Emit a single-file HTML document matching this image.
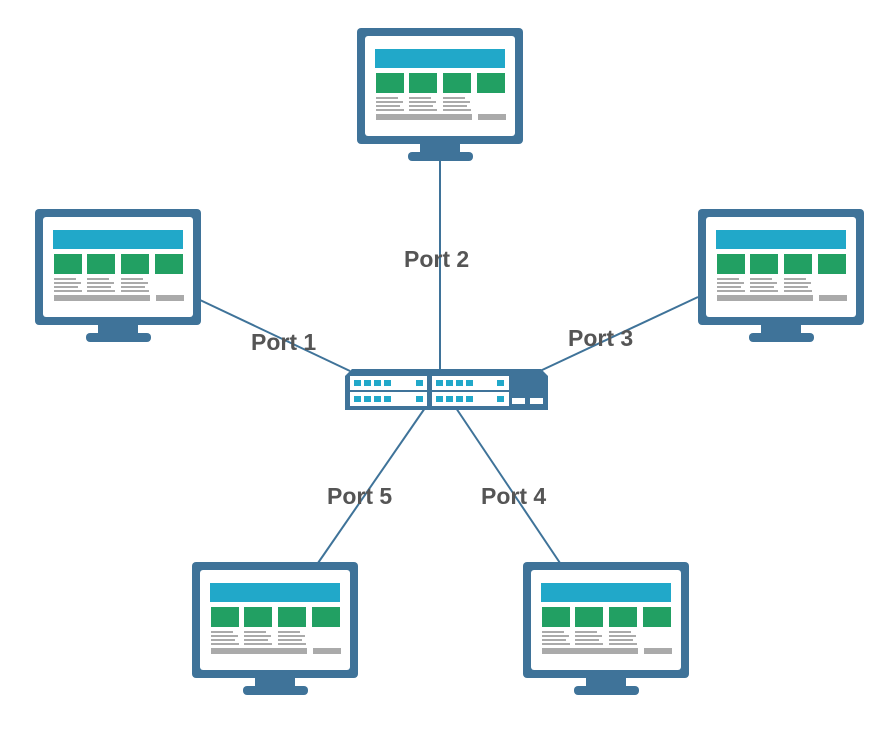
<!DOCTYPE html>
<html><head><style>
html,body{margin:0;padding:0;background:#fff;width:894px;height:735px;overflow:hidden}
text{font-family:"Liberation Sans",sans-serif;font-weight:bold;font-size:23px;fill:#555}
</style></head><body>
<svg width="894" height="735" viewBox="0 0 894 735" xmlns="http://www.w3.org/2000/svg">
<defs>
<g id="mon">
  <rect x="0" y="0" width="166" height="116" rx="4" fill="#3f7399"/>
  <rect x="8" y="8" width="150" height="100" rx="3" fill="#fff"/>
  <rect x="63" y="114" width="40" height="12" fill="#3f7399"/>
  <rect x="51" y="124" width="65" height="9" rx="4" fill="#3f7399"/>
  <rect x="18" y="21" width="130" height="19" fill="#21a8c9"/>
  <rect x="19" y="45" width="28" height="20" fill="#22a063"/>
  <rect x="52" y="45" width="28" height="20" fill="#22a063"/>
  <rect x="86" y="45" width="28" height="20" fill="#22a063"/>
  <rect x="120" y="45" width="28" height="20" fill="#22a063"/>
  <g fill="#aaa">
    <rect x="19" y="69" width="22" height="2"/><rect x="19" y="73" width="27" height="2"/><rect x="19" y="77" width="24" height="2"/><rect x="19" y="81" width="28" height="2"/>
    <rect x="52" y="69" width="22" height="2"/><rect x="52" y="73" width="27" height="2"/><rect x="52" y="77" width="24" height="2"/><rect x="52" y="81" width="28" height="2"/>
    <rect x="86" y="69" width="22" height="2"/><rect x="86" y="73" width="27" height="2"/><rect x="86" y="77" width="24" height="2"/><rect x="86" y="81" width="28" height="2"/>
    <rect x="19" y="86" width="96" height="6"/><rect x="121" y="86" width="28" height="6"/>
  </g>
</g>
</defs>
<g stroke="#3f7399" stroke-width="2">
  <line x1="200" y1="300" x2="350" y2="371"/>
  <line x1="440" y1="160" x2="440" y2="370"/>
  <line x1="698" y1="297" x2="540" y2="371"/>
  <line x1="425" y1="408" x2="318" y2="563"/>
  <line x1="456" y1="408" x2="560" y2="563"/>
</g>
<use href="#mon" x="357" y="28"/>
<use href="#mon" x="35" y="209"/>
<use href="#mon" x="698" y="209"/>
<use href="#mon" x="192" y="562"/>
<use href="#mon" x="523" y="562"/>
<path d="M345 376 L352 369 L541 369 L548 376 L548 410 L345 410 Z" fill="#3f7399"/>
<rect x="350" y="376" width="77" height="14" fill="#fff"/>
<rect x="350" y="392" width="77" height="14" fill="#fff"/>
<rect x="432" y="376" width="77" height="14" fill="#fff"/>
<rect x="432" y="392" width="77" height="14" fill="#fff"/>
<g fill="#21a8c9">
  <rect x="354" y="380" width="7" height="6"/><rect x="364" y="380" width="7" height="6"/><rect x="374" y="380" width="7" height="6"/><rect x="384" y="380" width="7" height="6"/><rect x="416" y="380" width="7" height="6"/>
  <rect x="354" y="396" width="7" height="6"/><rect x="364" y="396" width="7" height="6"/><rect x="374" y="396" width="7" height="6"/><rect x="384" y="396" width="7" height="6"/><rect x="416" y="396" width="7" height="6"/>
  <rect x="436" y="380" width="7" height="6"/><rect x="446" y="380" width="7" height="6"/><rect x="456" y="380" width="7" height="6"/><rect x="466" y="380" width="7" height="6"/><rect x="497" y="380" width="7" height="6"/>
  <rect x="436" y="396" width="7" height="6"/><rect x="446" y="396" width="7" height="6"/><rect x="456" y="396" width="7" height="6"/><rect x="466" y="396" width="7" height="6"/><rect x="497" y="396" width="7" height="6"/>
</g>
<rect x="512" y="398" width="13" height="6" fill="#fff"/>
<rect x="530" y="398" width="13" height="6" fill="#fff"/>
<text x="404" y="267">Port 2</text>
<text x="251" y="350">Port 1</text>
<text x="568" y="346">Port 3</text>
<text x="327" y="504">Port 5</text>
<text x="481" y="504">Port 4</text>
</svg>
</body></html>
